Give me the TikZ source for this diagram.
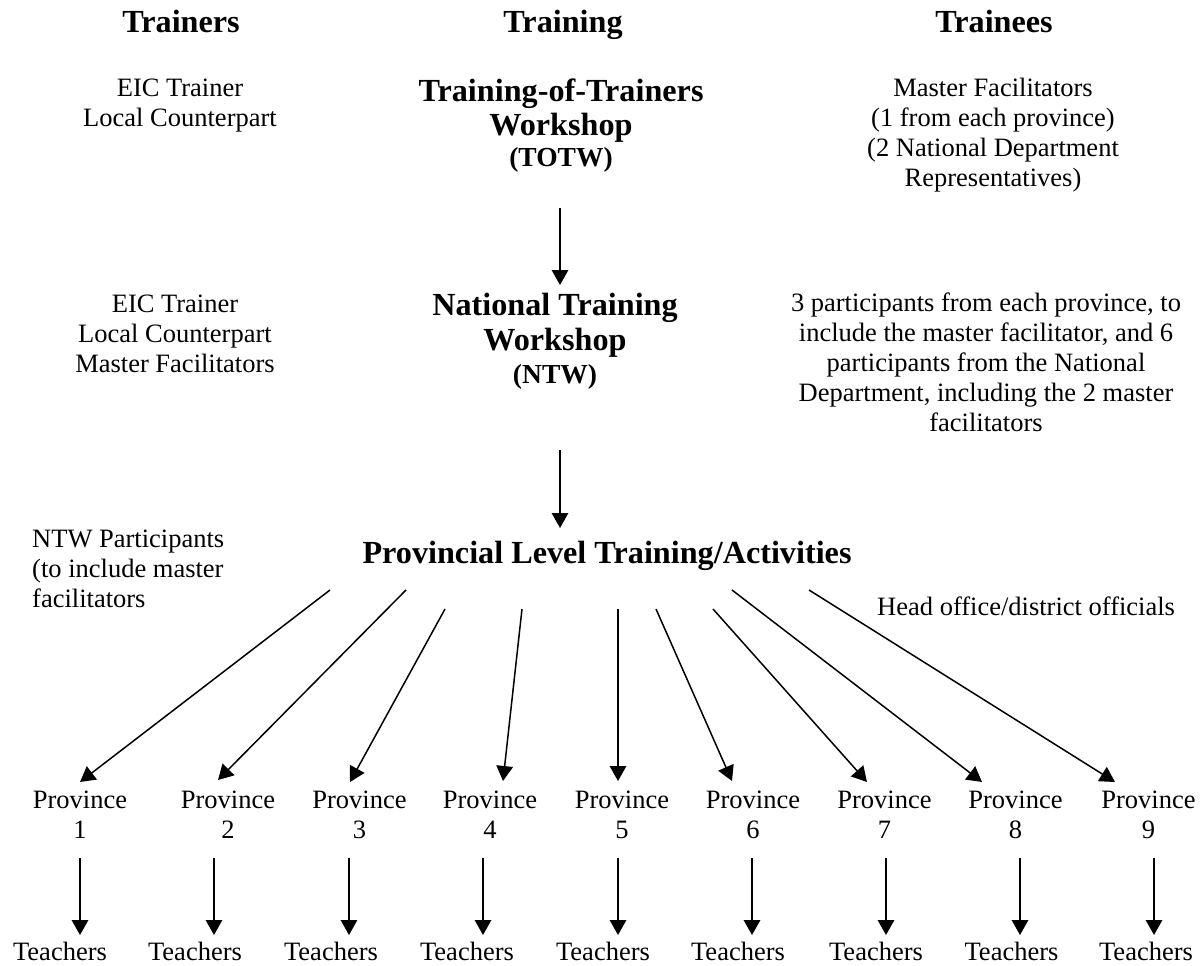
\documentclass[tikz,border=0pt]{standalone}
\usepackage{fontspec}
\setmainfont{Liberation Serif}
\usetikzlibrary{arrows.meta}
\newcommand\mlines[1]{\begin{tabular}[t]{@{}c@{}}#1\end{tabular}}
\newcommand\llines[1]{\begin{tabular}[t]{@{}l@{}}#1\end{tabular}}
\begin{document}
\begin{tikzpicture}[x=1pt,y=-1pt,
  txt/.style={inner sep=0pt, anchor=base, font=\fontsize{26.5}{30}\selectfont},
  head/.style={inner sep=0pt, anchor=base, font=\fontsize{32.2}{34.5}\selectfont\bfseries},
  arr/.style={line width=1.5pt, -{Triangle[length=15pt,width=16.5pt]}}]
\useasboundingbox (0,0) rectangle (1202,966);

% column headings
\node[head] (hTrainers) at (181,33) {Trainers};
\node[head] (hTraining) at (563,33) {Training};
\node[head] (hTrainees) at (994,33) {Trainees};

% row 1
\node[txt] (tr1) at (180,96) {\mlines{EIC Trainer\\Local Counterpart}};
\node[head] (totw) at (561,101) {\mlines{Training-of-Trainers\\Workshop\\[-3pt]\fontsize{27.5}{30}\selectfont (TOTW)}};
\node[txt] (te1) at (993,96) {\mlines{Master Facilitators\\(1 from each province)\\(2 National Department\\Representatives)}};

% row 2
\node[txt] (tr2) at (175,312) {\mlines{EIC Trainer\\Local Counterpart\\Master Facilitators}};
\node[head] (ntw) at (555,315) {\mlines{National Training\\[1pt]Workshop\\[-2pt]\fontsize{27.5}{30}\selectfont (NTW)}};
\node[txt] (te2) at (986,311) {\mlines{3 participants from each province, to\\include the master facilitator, and 6\\participants from the National\\Department, including the 2 master\\facilitators}};

% row 3
\node[txt, anchor=base west] (tr3) at (32,547) {\llines{NTW Participants\\(to include master\\facilitators}};
\node[head] (prov) at (607,563) {Provincial Level Training/Activities};
\node[txt, anchor=base west] (te3) at (877,615) {Head office/district officials};

% vertical arrows between trainings
\coordinate (a1s) at (560,208);
\coordinate (a1e) at (560,285);
\draw[arr] (a1s) -- (a1e);
\coordinate (a2s) at (560,450);
\coordinate (a2e) at (560,528);
\draw[arr] (a2s) -- (a2e);

% fan of arrows to provinces
\foreach \i/\sx/\sy/\ex/\ey in {1/330/590/80/782, 2/406/590/218/780, 3/445/609/350/782,
  4/522/609/503/781, 5/618/609/618/781, 6/656/609/732/781, 7/713/609/867/782,
  8/732/590/982/782, 9/809/590/1115/782}{
  \coordinate (fs\i) at (\sx,\sy);
  \coordinate (fe\i) at (\ex,\ey);
  \draw[arr] (fs\i) -- (fe\i);
}

% provinces and teachers
\foreach \i/\px/\ax/\tx in {1/80/80/60, 2/228/214/195, 3/359.5/349/331, 4/490/483/467,
  5/622/618/603, 6/753/752/738, 7/884.5/886/876, 8/1015.5/1020/1011.5, 9/1148.5/1154/1146}{
  \node[txt] (p\i) at (\px,808) {\mlines{Province\\\i}};
  \node[txt] (t\i) at (\tx,960) {Teachers};
  \coordinate (ps\i) at (\ax,858);
  \coordinate (pe\i) at (\ax,935);
  \draw[arr] (ps\i) -- (pe\i);
}
\end{tikzpicture}
\end{document}
